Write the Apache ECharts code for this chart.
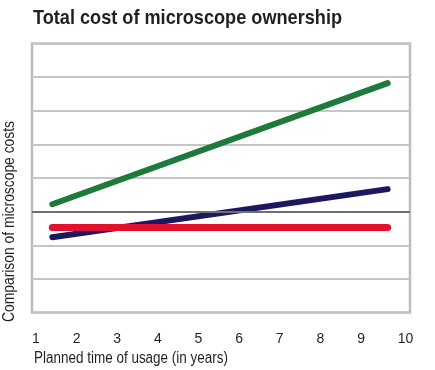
<!DOCTYPE html>
<html>
<head>
<meta charset="utf-8">
<script src="https://cdn.jsdelivr.net/npm/echarts@6/dist/echarts.min.js"></script>
<style>
html,body{margin:0;padding:0;background:#fff;}
#chart{width:435px;height:370px;}
</style>
</head>
<body>
<div id="chart"></div>
<script>
// Data
const titleText = 'Total cost of microscope ownership';
const xName = 'Planned time of usage (in years)';
const yName = 'Comparison of microscope costs';
const years = [1.5, 9.75];
const greenCost = [0.22, 3.82];
const navyCost = [-0.76, 0.67];
const redCost = [-0.47, -0.47];
const xMin = 1, xMax = 10.3, yMin = -3, yMax = 5;

const FONT = '"Liberation Sans", Arial, sans-serif';
const TXT = '#231f20';
const pairs = vals => years.map((x, i) => [x, vals[i]]);

// horizontal squeeze so the wide fallback font mimics the condensed original
const ctx = document.createElement('canvas').getContext('2d');
function squeeze(text, size, weight, target) {
  ctx.font = weight + ' ' + size + 'px ' + FONT;
  return target / ctx.measureText(text).width;
}

const chart = echarts.init(document.getElementById('chart'), null, {renderer: 'canvas'});
chart.setOption({
  animation: false,
  backgroundColor: '#ffffff',
  grid: {
    left: 32, right: 25, top: 43.5, bottom: 57.5,
    show: true, borderColor: '#bdbdc1', borderWidth: 2.5, backgroundColor: 'transparent'
  },
  xAxis: {
    type: 'value', min: xMin, max: xMax, interval: 1,
    axisLine: {show: false}, axisTick: {show: false}, splitLine: {show: false},
    axisLabel: {
      show: true, margin: 20, align: 'left',
      fontFamily: FONT, fontSize: 14, color: TXT,
      formatter: v => Number.isInteger(v) ? String(v) : ''
    }
  },
  yAxis: {
    type: 'value', min: yMin, max: yMax, interval: 1,
    axisLine: {show: false}, axisTick: {show: false}, axisLabel: {show: false},
    splitLine: {show: true, lineStyle: {color: '#c6c6c8', width: 2}}
  },
  graphic: [
    {
      type: 'text', x: 33, y: 18.5, scaleX: squeeze(titleText, 21, 'bold', 309),
      style: {text: titleText, fontFamily: FONT, fontSize: 21, fontWeight: 'bold', fill: TXT, align: 'left', verticalAlign: 'middle'}
    },
    {
      type: 'text', x: 34, y: 359, scaleX: squeeze(xName, 16, 'normal', 194),
      style: {text: xName, fontFamily: FONT, fontSize: 16, fill: TXT, align: 'left', verticalAlign: 'middle'}
    },
    {
      type: 'text', x: 10, y: 221.5, rotation: Math.PI / 2, scaleX: squeeze(yName, 16, 'normal', 201),
      style: {text: yName, fontFamily: FONT, fontSize: 16, fill: TXT, align: 'center', verticalAlign: 'middle'}
    }
  ],
  series: [
    {
      type: 'line', data: pairs(greenCost), symbol: 'none',
      lineStyle: {color: '#1d7a3b', width: 6, cap: 'round'},
      markLine: {
        silent: true, symbol: 'none', label: {show: false},
        lineStyle: {color: '#707070', width: 2, type: 'solid'},
        data: [{yAxis: 0}]
      },
      z: 3
    },
    {
      type: 'line', data: pairs(navyCost), symbol: 'none',
      lineStyle: {color: '#1c185f', width: 6, cap: 'round'}, z: 4
    },
    {
      type: 'line', data: pairs(redCost), symbol: 'none',
      lineStyle: {color: '#e2122f', width: 7, cap: 'round'}, z: 5
    }
  ]
});
</script>
</body>
</html>
